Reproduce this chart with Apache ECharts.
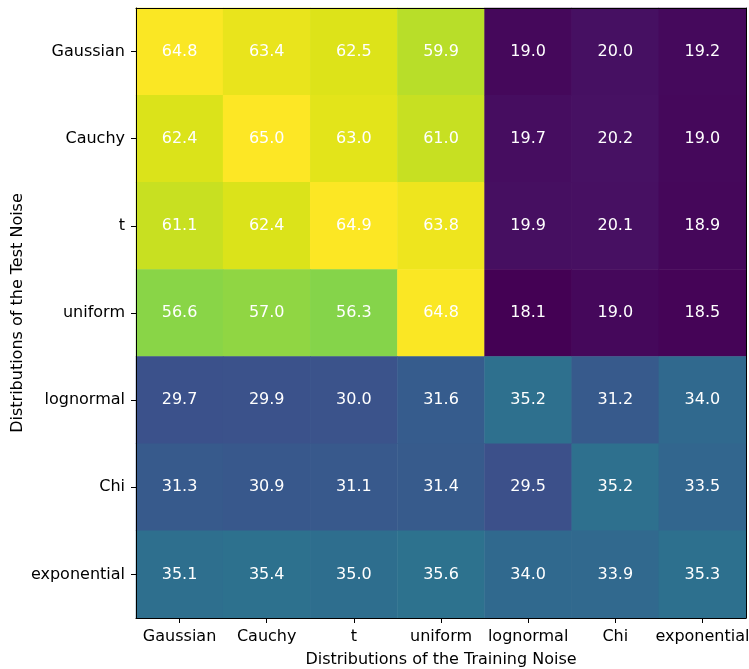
<!DOCTYPE html>
<html>
<head>
<meta charset="utf-8">
<script src="https://cdn.jsdelivr.net/npm/echarts@6/dist/echarts.min.js"></script>
<style>
  html, body { margin: 0; padding: 0; background: #fff; }
  #chart { width: 749px; height: 669px; }
</style>
</head>
<body>
<div id="chart"></div>
<script>
// Noise distributions used for training (columns) and testing (rows)
const trainNoise = ['Gaussian', 'Cauchy', 't', 'uniform', 'lognormal', 'Chi', 'exponential'];
const testNoise = ['Gaussian', 'Cauchy', 't', 'uniform', 'lognormal', 'Chi', 'exponential'];

// One row of scores per test distribution, in training-column order
const rowGaussian    = [64.8, 63.4, 62.5, 59.9, 19.0, 20.0, 19.2];
const rowCauchy      = [62.4, 65.0, 63.0, 61.0, 19.7, 20.2, 19.0];
const rowT           = [61.1, 62.4, 64.9, 63.8, 19.9, 20.1, 18.9];
const rowUniform     = [56.6, 57.0, 56.3, 64.8, 18.1, 19.0, 18.5];
const rowLognormal   = [29.7, 29.9, 30.0, 31.6, 35.2, 31.2, 34.0];
const rowChi         = [31.3, 30.9, 31.1, 31.4, 29.5, 35.2, 33.5];
const rowExponential = [35.1, 35.4, 35.0, 35.6, 34.0, 33.9, 35.3];

const rows = [rowGaussian, rowCauchy, rowT, rowUniform, rowLognormal, rowChi, rowExponential];

const cells = [];
rows.forEach((row, yi) => row.forEach((v, xi) => cells.push([xi, yi, v])));

const allValues = rows.flat();
const vMin = Math.min(...allValues);
const vMax = Math.max(...allValues);

// viridis colour ramp
const viridis = ['#440154', '#471365', '#482475', '#453781', '#414487', '#3b528b',
  '#355f8d', '#2f6c8e', '#2a788e', '#25858e', '#21918c', '#1e9c89', '#22a884',
  '#35b779', '#44bf70', '#5ec962', '#7ad151', '#9fda3a', '#bddf26', '#dfe318', '#fde725'];

const font = 'DejaVu Sans';
const fs = 16;
const chart = echarts.init(document.getElementById('chart'), null, { renderer: 'canvas' });

const frameAxis = {
  type: 'category',
  z: 10,
  axisLine: { show: true, lineStyle: { color: '#000', width: 1 } },
  axisTick: { show: false },
  axisLabel: { show: false },
  splitLine: { show: false }
};

chart.setOption({
  animation: false,
  backgroundColor: '#ffffff',
  grid: { left: 136, top: 8, width: 610, height: 610, containLabel: false, outerBoundsMode: 'none' },
  xAxis: [{
    type: 'category',
    z: 10,
    data: trainNoise,
    position: 'bottom',
    name: 'Distributions of the Training Noise',
    nameLocation: 'middle',
    nameGap: 34,
    nameMoveOverlap: false,
    nameTextStyle: { fontFamily: font, fontSize: fs, color: '#000' },
    axisLine: { show: true, lineStyle: { color: '#000', width: 1 } },
    axisTick: { show: true, alignWithLabel: true, length: 5, lineStyle: { color: '#000' } },
    axisLabel: { fontFamily: font, fontSize: fs, color: '#000', margin: 11, interval: 0 },
    splitLine: { show: false },
    splitArea: { show: false }
  }, Object.assign({ data: trainNoise, position: 'top' }, frameAxis)],
  yAxis: [{
    type: 'category',
    z: 10,
    data: testNoise,
    inverse: true,
    position: 'left',
    name: 'Distributions of the Test Noise',
    nameLocation: 'middle',
    nameGap: 110,
    nameRotate: 90,
    nameMoveOverlap: false,
    nameTextStyle: { fontFamily: font, fontSize: fs, color: '#000' },
    axisLine: { show: true, lineStyle: { color: '#000', width: 1 } },
    axisTick: { show: true, alignWithLabel: true, length: 5, lineStyle: { color: '#000' } },
    axisLabel: { fontFamily: font, fontSize: fs, color: '#000', margin: 11, interval: 0 },
    splitLine: { show: false },
    splitArea: { show: false }
  }, Object.assign({ data: testNoise, inverse: true, position: 'right' }, frameAxis)],
  visualMap: {
    show: false,
    type: 'continuous',
    min: vMin,
    max: vMax,
    dimension: 2,
    seriesIndex: 0,
    inRange: { color: viridis }
  },
  series: [{
    type: 'heatmap',
    xAxisIndex: 0,
    yAxisIndex: 0,
    data: cells,
    label: {
      show: true,
      color: '#ffffff',
      fontFamily: font,
      fontSize: fs,
      formatter: p => p.value[2].toFixed(1)
    },
    itemStyle: { borderWidth: 0 },
    emphasis: { disabled: true }
  }]
});
</script>
</body>
</html>
